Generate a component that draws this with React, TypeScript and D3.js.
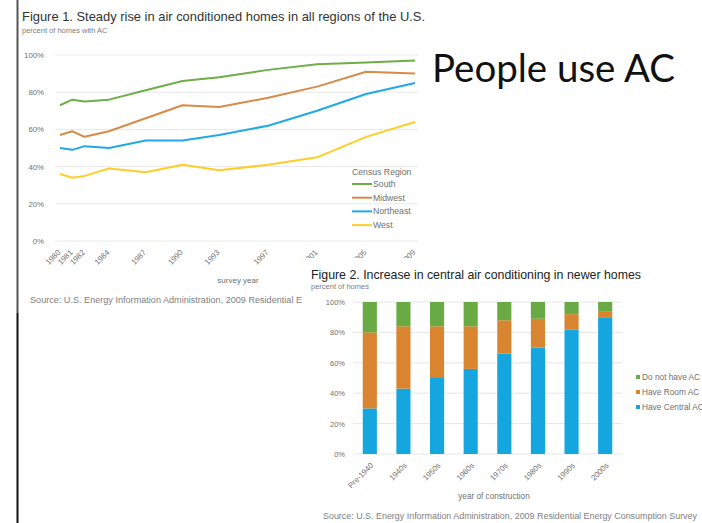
import React from "react";
import * as d3 from "d3";

const years = [1980, 1981, 1982, 1984, 1987, 1990, 1993, 1997, 2001, 2005, 2009];
const south = [73, 76, 75, 76, 81, 86, 88, 92, 95, 96, 97];
const midwest = [57, 59, 56, 59, 66, 73, 72, 77, 83, 91, 90];
const northeast = [50, 49, 51, 50, 54, 54, 57, 62, 70, 79, 85];
const west = [36, 34, 35, 39, 37, 41, 38, 41, 45, 56, 64];
const regionNames = ["South", "Midwest", "Northeast", "West"];
const pctTicks = [0, 20, 40, 60, 80, 100];

const eras = ["Pre-1940", "1940s", "1950s", "1960s", "1970s", "1980s", "1990s", "2000s"];
const centralAC = [30, 43, 50, 56, 66, 70, 82, 90];
const roomAC = [50, 41, 34, 28, 22, 19, 10, 4];
const noAC = [20, 16, 16, 16, 12, 11, 8, 6];
const barSeriesNames = ["Do not have AC", "Have Room AC", "Have Central AC"];

const lineColors = ["#6fae46", "#d88b48", "#1fa9e6", "#ffcd2a"];
const barColors = { none: "#69aa45", room: "#d9842f", central: "#15a6df" };

const FONT = "'Liberation Sans', Arial, sans-serif";

export default function App() {
  // Figure 1 scales
  const x1 = d3.scaleLinear().domain([1980, 2009]).range([60, 415]);
  const y1 = d3.scaleLinear().domain([0, 100]).range([241, 55]);
  const line = d3
    .line<number>()
    .x((_, i) => x1(years[i]))
    .y((d) => y1(d));
  const series = [south, midwest, northeast, west];

  // Figure 2 scales
  const x2 = d3.scaleBand<string>().domain(eras).range([353, 622]).paddingInner(0.58).paddingOuter(0.29);
  const y2 = d3.scaleLinear().domain([0, 100]).range([454, 302]);
  const stackData = eras.map((e, i) => ({ era: e, central: centralAC[i], room: roomAC[i], none: noAC[i] }));
  const stacked = d3.stack<any>().keys(["central", "room", "none"])(stackData);

  return (
    <svg
      width={702}
      height={523}
      style={{ position: "absolute", left: 0, top: 0, background: "#fff" }}
      fontFamily={FONT}
    >
      <rect x={0} y={0} width={702} height={523} fill="#fff" />
      {/* Figure 1 */}
      <g>
        <text x={22} y={21} fontSize={12.8} fill="#333" textLength={403} lengthAdjust="spacingAndGlyphs">
          Figure 1. Steady rise in air conditioned homes in all regions of the U.S.
        </text>
        <text x={22} y={33} fontSize={7.5} fill="#808080">
          percent of homes with AC
        </text>
        {pctTicks.map((t) => (
          <g key={t}>
            <line x1={55} x2={418} y1={y1(t)} y2={y1(t)} stroke="#e8e8e8" strokeWidth={1} />
            <text x={44} y={y1(t) + 3} fontSize={7.8} fill="#707070" textAnchor="end">
              {t}%
            </text>
          </g>
        ))}
        {series.map((s, k) => (
          <path key={k} d={line(s) || ""} fill="none" stroke={lineColors[k]} strokeWidth={2} strokeLinejoin="round" />
        ))}
        {years.map((yr) => (
          <text
            key={yr}
            transform={`translate(${x1(yr) + 1},${253}) rotate(-45)`}
            fontSize={7.8}
            fill="#707070"
            textAnchor="end"
          >
            {yr}
          </text>
        ))}
        <text x={238} y={283} fontSize={8} fill="#707070" textAnchor="middle">
          survey year
        </text>
        <text x={30} y={303} fontSize={8.5} fill="#808080" textLength={272} lengthAdjust="spacingAndGlyphs">
          Source:  U.S. Energy Information Administration, 2009 Residential E
        </text>
        {/* legend */}
        <text x={352} y={175} fontSize={8.7} fill="#707070">
          Census Region
        </text>
        {regionNames.map((n, k) => (
          <g key={n}>
            <line x1={352} x2={372} y1={184 + k * 13.7} y2={184 + k * 13.7} stroke={lineColors[k]} strokeWidth={2} />
            <text x={373} y={187 + k * 13.7} fontSize={8.7} fill="#707070">
              {n}
            </text>
          </g>
        ))}
      </g>
      {/* border of slide / figure 1 */}
      <line x1={17.5} x2={17.5} y1={0} y2={313} stroke="#555" strokeWidth={2} />
      <line x1={17.5} x2={17.5} y1={313} y2={523} stroke="#111" strokeWidth={2} />

      {/* People use AC */}
      <text x={432} y={82} fontSize={38} fill="#111" fontFamily="Lato, 'Open Sans', sans-serif" textLength={243} lengthAdjust="spacingAndGlyphs">
        People use AC
      </text>

      {/* Figure 2 */}
      <rect x={303} y={258} width={400} height={270} fill="#fff" />
      <g>
        <text x={311} y={279} fontSize={12.2} fill="#222" textLength={330} lengthAdjust="spacingAndGlyphs">
          Figure 2. Increase in central air conditioning in newer homes
        </text>
        <text x={311} y={289} fontSize={7.5} fill="#808080">
          percent of homes
        </text>
        {pctTicks.map((t) => (
          <g key={t}>
            <line x1={353} x2={622} y1={y2(t)} y2={y2(t)} stroke="#e6e6e6" strokeWidth={1} />
            <text x={345} y={y2(t) + 3} fontSize={7.5} fill="#707070" textAnchor="end">
              {t}%
            </text>
          </g>
        ))}
        {stacked.map((layer) => (
          <g key={layer.key} fill={(barColors as any)[layer.key]}>
            {layer.map((d, i) => (
              <rect
                key={i}
                x={x2(eras[i])}
                width={x2.bandwidth()}
                y={y2(d[1])}
                height={y2(d[0]) - y2(d[1])}
              />
            ))}
          </g>
        ))}
        {eras.map((e) => (
          <text
            key={e}
            transform={`translate(${(x2(e) || 0) + x2.bandwidth() / 2 + 4},${466}) rotate(-45)`}
            fontSize={7.8}
            fill="#707070"
            textAnchor="end"
          >
            {e}
          </text>
        ))}
        <text x={494} y={499} fontSize={8.2} fill="#707070" textAnchor="middle">
          year of construction
        </text>
        <text x={323} y={519} fontSize={8.5} fill="#808080" textLength={374} lengthAdjust="spacingAndGlyphs">
          Source:  U.S. Energy Information Administration, 2009 Residential Energy Consumption Survey
        </text>
        {/* legend */}
        {barSeriesNames.map((n, k) => {
          const c = [barColors.none, barColors.room, barColors.central][k];
          const yy = 378 + k * 15;
          return (
            <g key={n}>
              <rect x={636} y={yy - 3} width={4} height={4} fill={c} />
              <text x={642} y={yy + 1.5} fontSize={8.3} fill="#707070">
                {n}
              </text>
            </g>
          );
        })}
      </g>
    </svg>
  );
}
